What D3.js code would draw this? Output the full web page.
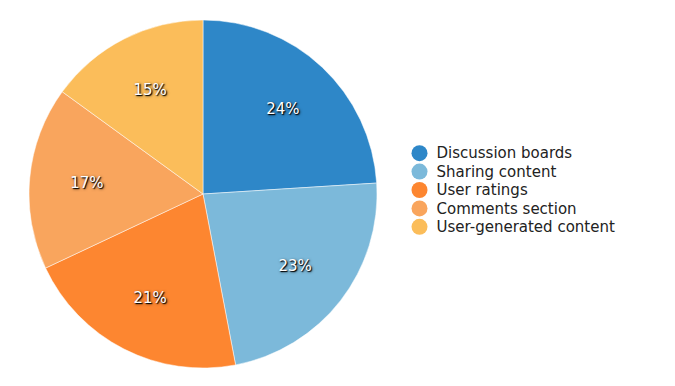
<!DOCTYPE html>
<html>
<head>
<meta charset="utf-8">
<script src="https://cdn.jsdelivr.net/npm/d3@7"></script>
<style>
  body { margin: 0; background: #fff; }
  .slice-label { font: 15px "DejaVu Sans", Verdana, sans-serif; fill: #fff; text-shadow: 1px 1px 1px #000, 1px 1px 3px rgba(0,0,0,0.7); }
  .legend-text { font: 15px "DejaVu Sans", Verdana, sans-serif; fill: #222; }
</style>
</head>
<body>
<div id="chart"></div>
<script>
var categories = ["Discussion boards", "Sharing content", "User ratings", "Comments section", "User-generated content"];
var values = [24, 23, 21, 17, 15];
var colors = ["#2e87c8", "#7cb9da", "#fd8630", "#f9a55d", "#fbbd5a"];

var svgWidth = 675;
var svgHeight = 386;
var radius = 174;
var cx = 203, cy = 194;

var svg = d3.select("#chart")
  .append("svg")
  .attr("width", svgWidth)
  .attr("height", svgHeight);

var pie = d3.pie().sort(null).value(function(d) { return d; });
var arc = d3.arc().innerRadius(0).outerRadius(radius);
var labelArc = d3.arc().innerRadius(radius * 0.67).outerRadius(radius * 0.67);

var color = d3.scaleOrdinal().domain(categories).range(colors);

var g = svg.append("g")
  .attr("transform", "translate(" + cx + "," + cy + ")");

var arcs = pie(values);

g.selectAll("path")
  .data(arcs)
  .enter()
  .append("path")
  .attr("d", arc)
  .attr("fill", function(d, i) { return color(categories[i]); })
  .attr("stroke", "#fff")
  .attr("stroke-width", 0.5);

g.selectAll("text")
  .data(arcs)
  .enter()
  .append("text")
  .attr("class", "slice-label")
  .attr("text-anchor", "middle")
  .attr("dy", "0.35em")
  .attr("transform", function(d) { return "translate(" + labelArc.centroid(d) + ")"; })
  .text(function(d) { return d.value + "%"; });

// legend
var legendY = d3.scaleBand().domain(categories).range([144, 236]);

var legend = svg.append("g");

var items = legend.selectAll("g")
  .data(categories)
  .enter()
  .append("g")
  .attr("transform", function(d) { return "translate(419.5," + (legendY(d) + legendY.bandwidth() / 2) + ")"; });

items.append("circle")
  .attr("r", 8)
  .attr("fill", function(d) { return color(d); });

items.append("text")
  .attr("class", "legend-text")
  .attr("x", 17)
  .attr("dy", "0.35em")
  .text(function(d) { return d; });
</script>
</body>
</html>
